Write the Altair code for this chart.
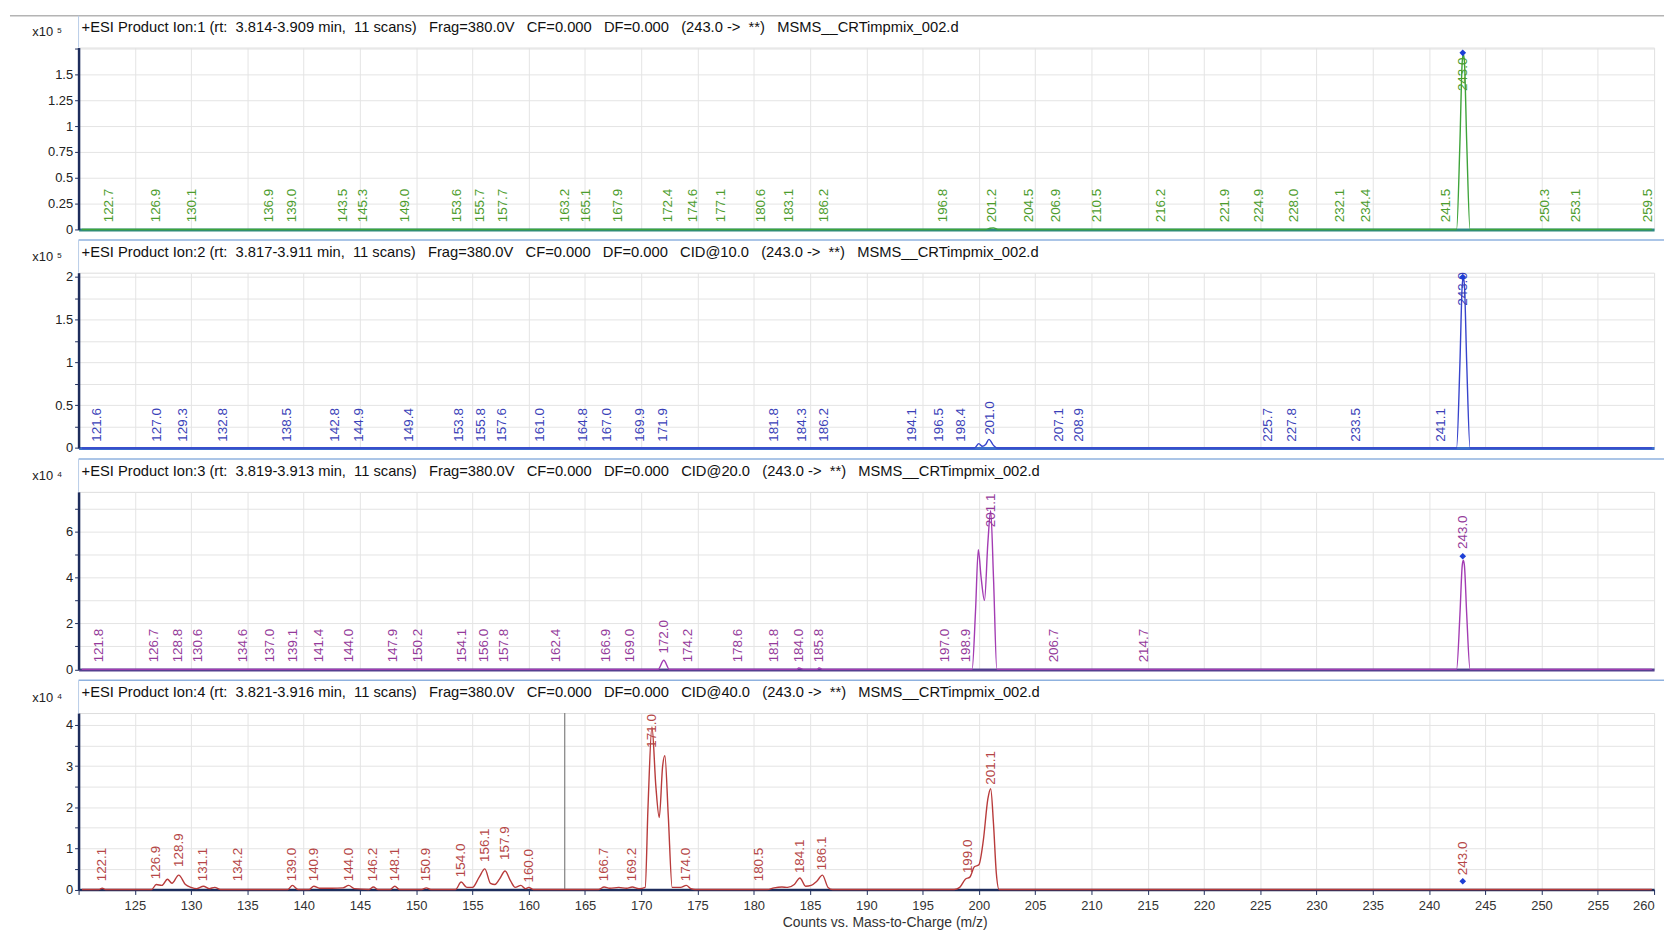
import altair as alt
import pandas as pd

# ---------------- data ----------------
headers = [
    "+ESI Product Ion:1 (rt:  3.814-3.909 min,  11 scans)   Frag=380.0V   CF=0.000   DF=0.000   (243.0 ->  **)   MSMS__CRTimpmix_002.d",
    "+ESI Product Ion:2 (rt:  3.817-3.911 min,  11 scans)   Frag=380.0V   CF=0.000   DF=0.000   CID@10.0   (243.0 ->  **)   MSMS__CRTimpmix_002.d",
    "+ESI Product Ion:3 (rt:  3.819-3.913 min,  11 scans)   Frag=380.0V   CF=0.000   DF=0.000   CID@20.0   (243.0 ->  **)   MSMS__CRTimpmix_002.d",
    "+ESI Product Ion:4 (rt:  3.821-3.916 min,  11 scans)   Frag=380.0V   CF=0.000   DF=0.000   CID@40.0   (243.0 ->  **)   MSMS__CRTimpmix_002.d",
]
exponents = ["x10 \u2075", "x10 \u2075", "x10 \u2074", "x10 \u2074"]

# profile spectra: m/z and intensity (in units of the panel's x10^n)
p1_mz = [120.3, 200.6, 201.0, 201.3, 201.7, 242.45, 242.75, 242.95, 243.05, 243.15, 243.35, 243.65, 259.8]
p1_in = [0, 0, 0.012, 0.015, 0, 0, 0.85, 1.62, 1.70, 1.62, 0.85, 0, 0]

p2_mz = [120.3, 199.6, 200.0, 200.3, 200.6, 200.9, 201.3, 201.6,
         242.45, 242.75, 242.95, 243.05, 243.15, 243.35, 243.65, 259.8]
p2_in = [0, 0, 0.05, 0.02, 0.04, 0.1, 0.03, 0,
         0, 1.0, 1.9, 2.0, 1.9, 1.0, 0, 0]

p3_mz = [120.3, 171.5, 172.0, 172.5, 183.8, 184.0, 184.4, 185.6, 185.8, 186.1,
         199.4, 199.7, 199.95, 200.2, 200.5, 200.8, 201.05, 201.3, 201.6,
         242.45, 242.75, 242.95, 243.05, 243.15, 243.35, 243.65, 259.8]
p3_in = [0, 0, 0.4, 0, 0, 0.06, 0, 0, 0.06, 0,
         0, 2.5, 5.2, 4.0, 3.0, 5.5, 6.9, 4.0, 0,
         0, 2.4, 4.5, 4.75, 4.5, 2.4, 0, 0]

p4_mz = [120.3, 121.8, 122.1, 122.4,
         126.5, 126.9, 127.4, 127.9, 128.3, 128.9, 129.5, 130.0, 130.5, 131.1, 131.6, 132.1, 132.6,
         138.6, 139.0, 139.5, 140.5, 140.9, 141.4, 142.5, 143.5, 144.0, 144.5, 145.8, 146.2, 146.6,
         147.7, 148.1, 148.5, 150.5, 150.9, 151.3,
         153.5, 154.0, 154.5, 155.0, 155.6, 156.1, 156.6, 157.0, 157.4, 157.9, 158.4, 158.8, 159.3,
         159.7, 160.0, 160.4,
         166.2, 166.7, 167.2, 168.0, 168.7, 169.2, 169.8, 170.35, 170.6, 170.95, 171.3, 171.6,
         171.9, 172.1, 172.4, 172.75, 173.5, 174.0, 174.4, 174.8,
         181.2, 181.8, 182.5, 183.0, 183.6, 184.1, 184.6, 185.1, 185.6, 186.1, 186.6, 187.0,
         197.8, 198.3, 198.8, 199.2, 199.6, 200.0, 200.4, 200.8, 201.05, 201.3, 201.55, 201.8,
         259.8]
p4_in = [0, 0, 0.03, 0,
         0, 0.12, 0.1, 0.25, 0.15, 0.35, 0.12, 0.05, 0.02, 0.08, 0.02, 0.05, 0,
         0, 0.1, 0, 0, 0.08, 0.03, 0.03, 0.04, 0.1, 0.02, 0, 0.06, 0,
         0, 0.08, 0, 0, 0.04, 0,
         0, 0.18, 0.05, 0.05, 0.3, 0.5, 0.15, 0.12, 0.25, 0.45, 0.2, 0.05, 0.1,
         0.02, 0.05, 0,
         0, 0.06, 0.03, 0.05, 0.03, 0.06, 0.02, 0.05, 2.0, 3.95, 2.5, 1.75,
         3.0, 3.25, 1.8, 0.05, 0.05, 0.1, 0.02, 0,
         0, 0.04, 0.06, 0.05, 0.12, 0.28, 0.08, 0.1, 0.2, 0.35, 0.05, 0,
         0, 0.05, 0.25, 0.3, 0.55, 0.6, 1.2, 2.2, 2.45, 1.6, 0.4, 0,
         0]

# peak labels: m/z and the intensity where each label starts
l1_mz = [122.7, 126.9, 130.1, 136.9, 139.0, 143.5, 145.3, 149.0, 153.6, 155.7, 157.7, 163.2,
         165.1, 167.9, 172.4, 174.6, 177.1, 180.6, 183.1, 186.2, 196.8, 201.2, 204.5, 206.9,
         210.5, 216.2, 221.9, 224.9, 228.0, 232.1, 234.4, 241.5, 243.0, 250.3, 253.1, 259.5]
l1_y = [0.05] * 32 + [1.32] + [0.05] * 3

l2_mz = [121.6, 127.0, 129.3, 132.8, 138.5, 142.8, 144.9, 149.4, 153.8, 155.8, 157.6, 161.0,
         164.8, 167.0, 169.9, 171.9, 181.8, 184.3, 186.2, 194.1, 196.5, 198.4, 201.0, 207.1,
         208.9, 225.7, 227.8, 233.5, 241.1, 243.0]
l2_y = [0.05] * 22 + [0.13] + [0.05] * 6 + [1.64]

l3_mz = [121.8, 126.7, 128.8, 130.6, 134.6, 137.0, 139.1, 141.4, 144.0, 147.9, 150.2, 154.1,
         156.0, 157.8, 162.4, 166.9, 169.0, 172.0, 174.2, 178.6, 181.8, 184.0, 185.8, 197.0,
         198.9, 201.1, 206.7, 214.7, 243.0]
l3_y = [0.22] * 17 + [0.6] + [0.22] * 7 + [6.1, 0.22, 0.22, 5.15]

l4_mz = [122.1, 126.9, 128.9, 131.1, 134.2, 139.0, 140.9, 144.0, 146.2, 148.1, 150.9, 154.0,
         156.1, 157.9, 160.0, 166.7, 169.2, 171.0, 174.0, 180.5, 184.1, 186.1, 199.0, 201.1, 243.0]
l4_y = [0.15, 0.2, 0.5, 0.15, 0.15, 0.15, 0.15, 0.15, 0.15, 0.15, 0.15, 0.25,
        0.62, 0.67, 0.12, 0.15, 0.15, 3.4, 0.15, 0.15, 0.35, 0.42, 0.35, 2.5, 0.3]

precursor_mz = 243.0
precursor_in = [1.71, 2.0, 4.92, 0.2]
cursor_mz = [163.2]

# axis layout per panel
y_max = [1.761, 2.05, 7.72, 4.29]
y_grid = [
    [0, 0.25, 0.5, 0.75, 1, 1.25, 1.5, 1.75],
    [0, 0.25, 0.5, 0.75, 1, 1.25, 1.5, 1.75, 2.0],
    [0, 1, 2, 3, 4, 5, 6, 7],
    [0, 0.5, 1, 1.5, 2, 2.5, 3, 3.5, 4],
]
y_label_expr = [
    "datum.value == 1.75 ? '' : format(datum.value, '~g')",
    "datum.value % 0.5 == 0 ? format(datum.value, '~g') : ''",
    "datum.value % 2 == 0 ? format(datum.value, '~g') : ''",
    "datum.value % 1 == 0 ? format(datum.value, '~g') : ''",
]
x_ticks = list(range(120, 261, 5))

heights = [183, 176.3, 178.6, 177.5]
W = 1585
line_colors = ["#3ea43a", "#3744cc", "#a33cb3", "#b83b3b"]
label_colors = ["#4c9c2c", "#3a3fb8", "#943a9a", "#b54646"]
band_colors = ["#2f8a80", "#3d6fcc", "#55408f", "#1e2d5c"]
border_colors = ["#b4b4b4", "#8fb2df", "#8fb2df", "#8fb2df"]

FONT = "Liberation Sans"
profiles = [(p1_mz, p1_in), (p2_mz, p2_in), (p3_mz, p3_in), (p4_mz, p4_in)]
labels = [(l1_mz, l1_y), (l2_mz, l2_y), (l3_mz, l3_y), (l4_mz, l4_y)]

panels = []
for i in range(4):
    last = i == 3
    xscale = alt.Scale(domain=[120, 260], nice=False, zero=False)
    yscale = alt.Scale(domain=[0, y_max[i]], nice=False, zero=False)
    if last:
        xaxis = alt.Axis(
            values=x_ticks, tickCount=60, grid=True, gridColor="#e4e4e4", gridWidth=1,
            ticks=True, tickColor="#1e2d5c", tickSize=5, labelOverlap=False,
            labelExpr="datum.value == 120 ? '' : datum.label",
            labelFont=FONT, labelFontSize=13, labelColor="#333", labelPadding=5,
            domain=True, domainColor=band_colors[i], domainWidth=2.5,
            title="Counts vs. Mass-to-Charge (m/z)", titleX=811, titleAlign="center",
            titleFont=FONT, titleFontSize=14, titleFontWeight="normal", titleColor="#333",
            titlePadding=3,
        )
    else:
        xaxis = alt.Axis(
            values=x_ticks, tickCount=60, grid=True, gridColor="#e4e4e4", gridWidth=1,
            labels=False, ticks=False, domain=True, domainColor=band_colors[i],
            domainWidth=3, title=None,
        )
    yaxis = alt.Axis(
        values=y_grid[i], tickCount=40, grid=True, gridColor="#e4e4e4", gridWidth=1,
        labelOverlap=False,
        labelExpr=y_label_expr[i], labelFont=FONT, labelFontSize=13, labelColor="#222",
        labelPadding=2, tickSize=4, tickColor="#1e2d5c",
        domainColor="#1e2d5c", domainWidth=2.5,
        title=exponents[i], titleAngle=0, titleX=-47, titleY=-16, titleAlign="left",
        titleBaseline="middle", titleFont=FONT, titleFontSize=13, titleFontWeight="normal",
        titleColor="#222",
    )
    prof = pd.DataFrame({"mz": profiles[i][0], "inten": profiles[i][1]})
    labs = pd.DataFrame({"mz": labels[i][0], "inten": labels[i][1],
                         "txt": [f"{v:.1f}" for v in labels[i][0]]})
    prec = pd.DataFrame({"mz": [precursor_mz], "inten": [precursor_in[i]]})
    head = pd.DataFrame({"txt": [headers[i].replace(" ", "\u00a0")]})

    line = alt.Chart(prof).mark_line(
        color=line_colors[i], strokeWidth=1.4, interpolate="monotone"
    ).encode(
        x=alt.X("mz:Q", scale=xscale, axis=xaxis),
        y=alt.Y("inten:Q", scale=yscale, axis=yaxis),
    )
    text = alt.Chart(labs).mark_text(
        angle=270, align="left", baseline="middle", dx=2, font=FONT, fontSize=13.5,
        color=label_colors[i],
    ).encode(x="mz:Q", y="inten:Q", text="txt:N")
    point = alt.Chart(prec).mark_point(
        shape="diamond", filled=True, size=45, color="#1d3fd6", opacity=1
    ).encode(x="mz:Q", y="inten:Q")
    border = alt.Chart(prec).mark_rule(color=border_colors[i], strokeWidth=1.5).encode(
        x=alt.value(-69 if i == 0 else 0), x2=alt.value(W + 10), y=alt.value(-32 if i == 0 else -33)
    )
    border_left = alt.Chart(prec).mark_rule(color="#b8cde8", strokeWidth=1).encode(
        x=alt.value(0), y=alt.value(-32 if i == 0 else -33), y2=alt.value(0)
    )
    header = alt.Chart(head).mark_text(
        align="left", baseline="middle", font=FONT, fontSize=14.8, color="#111"
    ).encode(x=alt.value(3), y=alt.value(-20), text="txt:N")
    layers = [border, border_left, line, text, point, header]
    if last:
        cur = pd.DataFrame({"mz": cursor_mz})
        layers.insert(2, alt.Chart(cur).mark_rule(color="#808080", strokeWidth=1.2).encode(
            x="mz:Q", y=alt.datum(0), y2=alt.datum(y_max[i])))
    panel = alt.layer(*layers).properties(width=W, height=heights[i])
    panels.append(panel)

chart = alt.vconcat(*panels, spacing=43.5, bounds="flush").properties(
    padding={"left": 0, "top": 3, "right": 0, "bottom": 0}
).configure_view(stroke="transparent").configure(background="white")

chart.save("out.html", embed_options={"renderer": "svg", "actions": False})
